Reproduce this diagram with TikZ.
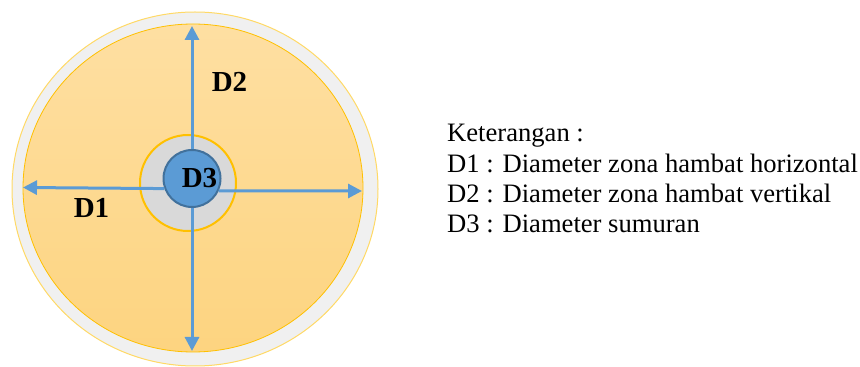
\documentclass[tikz,border=0pt]{standalone}
\usepackage{fontspec}
\setmainfont{Liberation Serif}
\usetikzlibrary{arrows.meta}
\definecolor{ringgray}{HTML}{F0F0F0}
\definecolor{zonetop}{HTML}{FEDFA2}
\definecolor{zonebot}{HTML}{FDD480}
\definecolor{amber}{HTML}{FFC000}
\definecolor{corefill}{HTML}{D9D9D9}
\definecolor{wellblue}{HTML}{5B9BD5}
\definecolor{welledge}{HTML}{41719C}
\tikzset{
  dim/.style={draw=wellblue, line width=3pt, -{Triangle[length=14pt,width=14pt]}},
  dlabel/.style={font=\fontsize{29}{32}\selectfont\bfseries, inner sep=0pt},
  legend/.style={font=\fontsize{26.6}{30}\selectfont, anchor=base west, inner sep=0pt},
}
\begin{document}
\begin{tikzpicture}[x=1pt,y=1pt]
  \useasboundingbox (0,0) rectangle (860,367);
  % outer ring
  \path[fill=ringgray, draw=amber!60, line width=1pt] (195,178) ellipse [x radius=183pt, y radius=177pt];
  % influence zone
  \path[top color=zonetop, bottom color=zonebot, draw=amber, line width=0.8pt] (193,179) ellipse [x radius=170pt, y radius=164pt];
  % gravel ring around the well
  \path[fill=corefill, draw=amber, line width=2pt] (188,184) circle [radius=48pt];
  % well
  \node[circle, minimum size=57pt, inner sep=0pt, fill=wellblue, draw=welledge, line width=2pt] (well) at (192,188.5) {};
  \coordinate (top) at (192,341);
  \coordinate (bot) at (192,16);
  \coordinate (lft) at (23,179.5);
  \coordinate (rgt) at (362,176);
  \draw[dim] (well.north) -- (top);
  \draw[dim] (well.south) -- (bot);
  \draw[dim] (well.200) -- (lft);
  \draw[dim] (well.335) -- (rgt);
  \node[dlabel] (d3) at (199.5,188.5) {D3};
  \node[dlabel] (d2) at (229.5,285.5) {D2};
  \node[dlabel] (d1) at (91.5,159.5) {D1};
  % legend
  \node[legend] (k)  at (447,225) {Keterangan :};
  \node[legend] (l1) at (447,194) {D1 : Diameter zona hambat horizontal};
  \node[legend] (l2) at (447,164) {D2 : Diameter zona hambat vertikal};
  \node[legend] (l3) at (447,134) {D3 : Diameter sumuran};
\end{tikzpicture}
\end{document}
